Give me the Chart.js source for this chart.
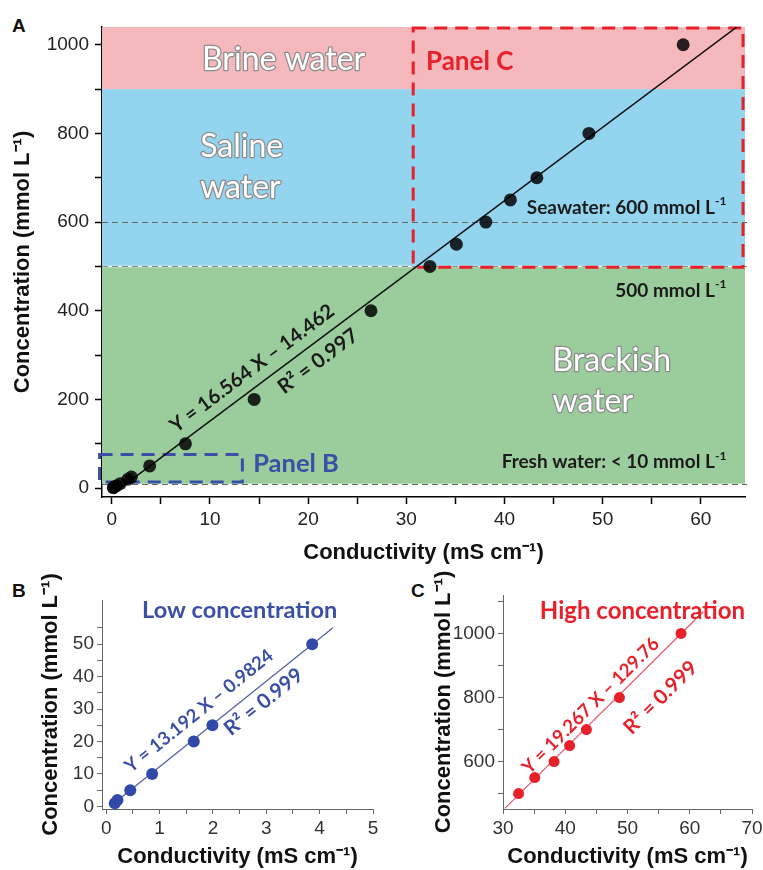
<!DOCTYPE html>
<html><head><meta charset="utf-8">
<script src="https://cdn.jsdelivr.net/npm/chart.js@4.4.1/dist/chart.umd.min.js"></script>
<style>
html,body{margin:0;padding:0;background:#fff;width:763px;height:870px;overflow:hidden;position:relative;}
canvas{position:absolute;}
.plab{position:absolute;font-family:"Liberation Sans",Arial,sans-serif;font-weight:bold;font-size:19px;color:#111;line-height:19px;}
</style></head><body>
<div class="plab" style="left:12px;top:16px">A</div>
<div class="plab" style="left:12px;top:581px">B</div>
<div class="plab" style="left:411px;top:581px">C</div>
<canvas id="ca" width="763" height="570" style="left:0;top:0"></canvas>
<canvas id="cb" width="390" height="300" style="left:0;top:570px"></canvas>
<canvas id="cc" width="400" height="300" style="left:390px;top:570px"></canvas>
<script>
// ---------------- DATA ----------------
// Panel A: all calibration points
const condA = [0.15, 0.21, 0.45, 0.86, 1.64, 1.99, 3.86, 7.5, 14.5, 26.4, 32.4, 35.1, 38.1, 40.6, 43.3, 48.6, 58.2];
const concA = [1, 2, 5, 10, 20, 25, 50, 100, 200, 400, 500, 550, 600, 650, 700, 800, 1000];
const fitA = [16.564, -14.462];          // slope, intercept
const fitAX = [0.9, 64.5];               // fit line x extent
// Panel B: low concentration
const condB = [0.16, 0.21, 0.45, 0.86, 1.64, 1.99, 3.86];
const concB = [1, 2, 5, 10, 20, 25, 50];
const fitB = [13.192, -0.9824];
const fitBX = [0.07, 4.25];
// Panel C: high concentration
const condC = [32.5, 35.1, 38.2, 40.7, 43.4, 48.7, 58.6];
const concC = [500, 550, 600, 650, 700, 800, 1000];
const fitC = [19.267, -129.76];
const fitCX = [30.3, 62.2];
// Ticks and labels
const xTicksA = [0,5,10,15,20,25,30,35,40,45,50,55,60];
const xLabelsA = [0,10,20,30,40,50,60];
const yTicksA = [0,100,200,300,400,500,600,700,800,900,1000];
const yLabelsA = [0,200,400,600,800,1000];
const xTicksB = [0,0.5,1,1.5,2,2.5,3,3.5,4,4.5,5];
const xLabelsB = [0,1,2,3,4,5];
const yTicksB = [0,5,10,15,20,25,30,35,40,45,50,55];
const yLabelsB = [0,10,20,30,40,50];
const xTicksC = [30,35,40,45,50,55,60,65,70];
const xLabelsC = [30,40,50,60,70];
const yTicksC = [500,600,700,800,900,1000,1100];
const yLabelsC = [600,800,1000];
// Water classes (mmol/L): fresh < 10, brackish 10-500, saline 500-900, brine > 900
const bandEdgesA = [10, 500, 900, 1040];
const refLevelsA = [10, 500, 600];
const boxB = [-1.25, 14, 13.3, 76];     // x1, y1, x2, y2
const boxC = [30.7, 498, 64.3, 1038];

// ---------------- STYLE ----------------
const FAX = '"Liberation Sans", Arial, Helvetica, sans-serif';
const FNOTE = 'Lato, Carlito, "Open Sans", sans-serif';
const bandColorsA = ['#9acd9b', '#93d4ef', '#f5b9bd'];
const RED = '#e8202a', BLUE = '#3b4fa6';

function richText(ctx, txt, x, y, o) {
  const parts = txt.split(/\^\{([^}]*)\}/);
  const w8 = o.weight || 'bold', fam = o.family || FNOTE;
  const fN = `${w8} ${o.size}px ${fam}`, fS = `${w8} ${Math.round(o.size*0.62)}px ${fam}`;
  ctx.save();
  ctx.translate(x, y);
  if (o.angle) ctx.rotate(o.angle);
  ctx.textBaseline = 'middle'; ctx.textAlign = 'left';
  let w = 0;
  parts.forEach((p,i)=>{ ctx.font = i%2?fS:fN; w += ctx.measureText(p).width; });
  let cx = o.align==='left' ? 0 : o.align==='right' ? -w : -w/2;
  parts.forEach((p,i)=>{
    ctx.font = i%2?fS:fN;
    const dy = i%2 ? -o.size*0.33 : 0;
    if (o.stroke) { ctx.lineWidth = o.strokeWidth||2; ctx.strokeStyle = o.stroke; ctx.lineJoin='round'; ctx.strokeText(p, cx, dy); }
    ctx.fillStyle = o.color; ctx.fillText(p, cx, dy);
    cx += ctx.measureText(p).width;
  });
  ctx.restore();
}
function lineAngle(chart, fit, xr) {
  const {x, y} = chart.scales;
  const x1 = x.getPixelForValue(xr[0]), y1 = y.getPixelForValue(fit[0]*xr[0]+fit[1]);
  const x2 = x.getPixelForValue(xr[1]), y2 = y.getPixelForValue(fit[0]*xr[1]+fit[1]);
  return Math.atan2(y2-y1, x2-x1);
}
function notes(chart, list) {
  const {ctx, scales:{x, y}} = chart;
  list.forEach(n => richText(ctx, n.t, x.getPixelForValue(n.x), y.getPixelForValue(n.y), n));
}
function dashedBox(chart, b, color) {
  const {ctx, scales:{x, y}} = chart;
  const l = x.getPixelForValue(b[0]), r = x.getPixelForValue(b[2]);
  const t = y.getPixelForValue(b[3]), bo = y.getPixelForValue(b[1]);
  ctx.save(); ctx.strokeStyle = color; ctx.lineWidth = 3; ctx.setLineDash([13, 8]);
  ctx.strokeRect(l, t, r-l, bo-t); ctx.restore();
}
function pts(xs, ys) { return xs.map((v,i)=>({x:v, y:ys[i]})); }
function fitPts(fit, xr) { return xr.map(v=>({x:v, y:fit[0]*v+fit[1]})); }
function near(list, v) { return list.some(a => Math.abs(a - v) < 1e-6); }

function axis(o) {
  return {
    type: 'linear', min: o.min, max: o.max, bounds: 'data',
    afterBuildTicks: s => { s.ticks = o.ticks.map(v => ({value: v})); },
    afterFit: s => { if (o.width !== undefined) s.width = o.width; if (o.height !== undefined) s.height = o.height; },
    ticks: { autoSkip: false, maxRotation: 0, padding: o.tpad, color: o.tcolor,
      font: {family: FAX, size: 19},
      callback: v => near(o.labels, v) ? String(v) : '' },
    grid: { drawOnChartArea: false, drawTicks: true, tickLength: o.tlen, tickColor: o.acolor, tickWidth: o.aw },
    border: { display: true, color: o.acolor, width: o.aw },
    title: { display: true, text: o.title, color: '#111', padding: o.titlePad,
      font: {family: FAX, size: 22, weight: 'bold'} }
  };
}
const TX = 'Conductivity (mS cm\u207B\u00B9)';
const TY = 'Concentration (mmol L\u207B\u00B9)';
const base = { responsive: false, animation: false, events: [],
  plugins: { legend: {display: false}, tooltip: {enabled: false} } };

// ---------------- PANEL A ----------------
const notesA = [
  {t:'Brine water', x:17.5, y:966, size:32, weight:'normal', color:'#fff', stroke:'#8c8c8c', strokeWidth:2.5},
  {t:'Saline', x:9.0, y:770, size:32, weight:'normal', color:'#fff', stroke:'#8c8c8c', strokeWidth:2.5, align:'left'},
  {t:'water', x:9.0, y:678, size:32, weight:'normal', color:'#fff', stroke:'#8c8c8c', strokeWidth:2.5, align:'left'},
  {t:'Brackish', x:44.9, y:288, size:32, weight:'normal', color:'#fff', stroke:'#8c8c8c', strokeWidth:2.5, align:'left'},
  {t:'water', x:44.9, y:194, size:32, weight:'normal', color:'#fff', stroke:'#8c8c8c', strokeWidth:2.5, align:'left'},
  {t:'Panel C', x:32.0, y:962, size:26, color:RED, align:'left'},
  {t:'Seawater: 600 mmol L^{-1}', x:62.6, y:633, size:19, color:'#1a1a1a', align:'right'},
  {t:'500 mmol L^{-1}', x:62.6, y:446, size:19, color:'#1a1a1a', align:'right'},
  {t:'Fresh water: < 10 mmol L^{-1}', x:62.6, y:58.5, size:19, color:'#1a1a1a', align:'right'},
  {t:'Panel B', x:14.4, y:54, size:25.5, color:BLUE, align:'left'}
];
const decorA = {
  id: 'decorA',
  beforeDatasetsDraw(chart) {
    const {ctx, chartArea: ca, scales: {x, y}} = chart;
    ctx.save();
    ctx.beginPath(); ctx.rect(ca.left, ca.top, ca.width, ca.height); ctx.clip();
    for (let i = 0; i < bandColorsA.length; i++) {
      const yt = y.getPixelForValue(bandEdgesA[i+1]), yb = y.getPixelForValue(bandEdgesA[i]);
      ctx.fillStyle = bandColorsA[i];
      ctx.fillRect(ca.left, yt, ca.width, yb - yt);
    }
    ctx.restore();
    ctx.save();
    refLevelsA.forEach(v => {
      const py = Math.round(y.getPixelForValue(v)) + 0.5;
      if (v === 500) { ctx.setLineDash([]); ctx.strokeStyle = '#f4f4f4'; ctx.lineWidth = 1.5;
        ctx.beginPath(); ctx.moveTo(ca.left, py); ctx.lineTo(ca.right, py); ctx.stroke(); }
      ctx.setLineDash([6, 4]); ctx.strokeStyle = v === 500 ? '#8a8a8a' : '#666'; ctx.lineWidth = 1;
      ctx.beginPath(); ctx.moveTo(ca.left, py); ctx.lineTo(ca.right + 2, py); ctx.stroke();
    });
    ctx.restore();
    dashedBox(chart, boxB, BLUE);
    dashedBox(chart, boxC, RED);
  },
  afterDatasetsDraw(chart) {
    notes(chart, notesA);
    const ang = lineAngle(chart, fitA, fitAX);
    notes(chart, [
      {t:'Y = 16.564 X \u2013 14.462', x:14.3, y:270, size:20, color:'#1a1a1a', angle:ang},
      {t:'R\u00B2 = 0.997', x:21.0, y:286, size:20.5, color:'#1a1a1a', angle:ang}
    ]);
  }
};
new Chart(document.getElementById('ca'), {
  type: 'scatter',
  data: { datasets: [
    { data: pts(condA, concA), backgroundColor: 'rgba(0,0,0,0.84)', borderWidth: 0, pointRadius: 6.5, order: 0 },
    { data: fitPts(fitA, fitAX), showLine: true, borderColor: '#111', borderWidth: 1.5, pointRadius: 0, order: 1 }
  ]},
  options: Object.assign({}, base, {
    layout: { padding: {left: 0, top: 27, right: 18, bottom: 0} },
    scales: {
      x: axis({min: -1, max: 64.5, ticks: xTicksA, labels: xLabelsA, width: undefined, height: 73,
        tpad: 4, tlen: 7, tcolor: '#222', acolor: '#000', aw: 1.5, title: TX, titlePad: {top: 4, bottom: 4}}),
      y: axis({min: -20, max: 1040, ticks: yTicksA, labels: yLabelsA, width: 102,
        tpad: 6, tlen: 7, tcolor: '#222', acolor: '#000', aw: 1.5, title: TY, titlePad: {top: 10, bottom: 4}})
    }
  }),
  plugins: [decorA]
});

// ---------------- PANEL B ----------------
const decorB = {
  id: 'decorB',
  afterDatasetsDraw(chart) {
    const ang = lineAngle(chart, fitB, fitBX);
    notes(chart, [
      {t:'Low concentration', x:2.5, y:60.5, size:23.5, color:BLUE},
      {t:'Y = 13.192 X \u2013 0.9824', x:1.74, y:29.4, size:18.5, color:BLUE, angle:ang},
      {t:'R\u00B2 = 0.999', x:2.95, y:32.2, size:20.5, color:BLUE, angle:ang}
    ]);
  }
};
new Chart(document.getElementById('cb'), {
  type: 'scatter',
  data: { datasets: [
    { data: pts(condB, concB), backgroundColor: '#3149a8', borderWidth: 0, pointRadius: 6, order: 0 },
    { data: fitPts(fitB, fitBX), showLine: true, borderColor: '#5862a8', borderWidth: 1.3, pointRadius: 0, order: 1 }
  ]},
  options: Object.assign({}, base, {
    layout: { padding: {left: 0, top: 30, right: 17, bottom: 0} },
    scales: {
      x: axis({min: -0.08, max: 5, ticks: xTicksB, labels: xLabelsB, height: 61,
        tpad: 3, tlen: 5, tcolor: '#333', acolor: '#666', aw: 1, title: TX, titlePad: {top: 2, bottom: 0}}),
      y: axis({min: -0.8, max: 63.6, ticks: yTicksB, labels: yLabelsB, width: 102,
        tpad: 3, tlen: 5, tcolor: '#333', acolor: '#666', aw: 1, title: TY, titlePad: {top: 38, bottom: 2}})
    }
  }),
  plugins: [decorB]
});

// ---------------- PANEL C ----------------
const decorC = {
  id: 'decorC',
  afterDatasetsDraw(chart) {
    const ang = lineAngle(chart, fitC, fitCX);
    notes(chart, [
      {t:'High concentration', x:52.4, y:1069, size:24, color:RED},
      {t:'Y = 19.267 X \u2013 129.76', x:44.1, y:775, size:18.5, color:RED, angle:ang},
      {t:'R\u00B2 = 0.999', x:55.3, y:800, size:20.5, color:RED, angle:ang}
    ]);
  }
};
new Chart(document.getElementById('cc'), {
  type: 'scatter',
  data: { datasets: [
    { data: pts(condC, concC), backgroundColor: '#e8202a', borderWidth: 0, pointRadius: 5.5, order: 0 },
    { data: fitPts(fitC, fitCX), showLine: true, borderColor: '#e0606a', borderWidth: 1.3, pointRadius: 0, order: 1 }
  ]},
  options: Object.assign({}, base, {
    layout: { padding: {left: 0, top: 25, right: 38, bottom: 0} },
    scales: {
      x: axis({min: 30, max: 70, ticks: xTicksC, labels: xLabelsC, height: 61,
        tpad: 3, tlen: 5, tcolor: '#333', acolor: '#666', aw: 1, title: TX, titlePad: {top: 2, bottom: 0}}),
      y: axis({min: 452, max: 1120, ticks: yTicksC, labels: yLabelsC, width: 113,
        tpad: 3, tlen: 5, tcolor: '#333', acolor: '#666', aw: 1, title: TY, titlePad: {top: 41, bottom: 2}})
    }
  }),
  plugins: [decorC]
});
</script>
</body></html>
